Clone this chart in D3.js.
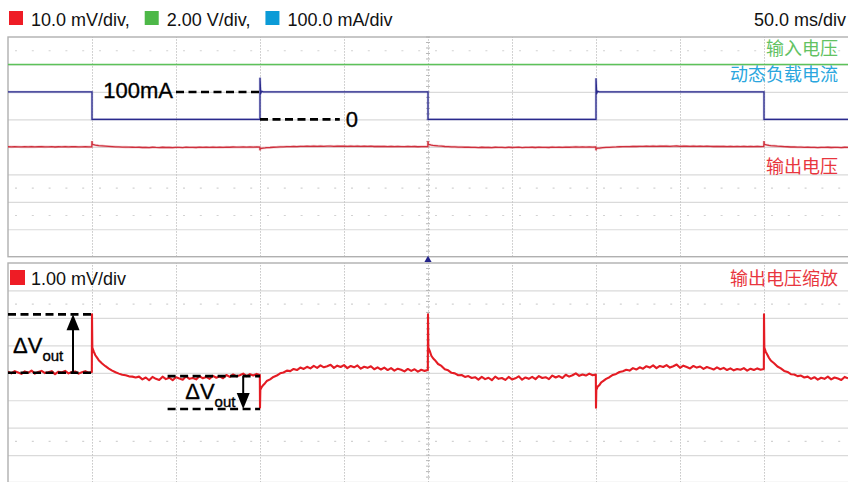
<!DOCTYPE html>
<html><head><meta charset="utf-8">
<script src="https://cdn.jsdelivr.net/npm/d3@7"></script>
<style>
html,body{margin:0;padding:0;background:#fff;}
svg{display:block;}
text{font-family:"Liberation Sans",Arial,Helvetica,sans-serif;}
.cjk{font-family:"Noto Sans CJK SC","Noto Sans",sans-serif;}
</style></head><body>
<svg id="c" width="848" height="482"></svg>
<script>
// ---------------- data ----------------
const timeDomain = [0, 500];                       // ms, 10 div x 50 ms/div
const gridTimes = [50, 100, 150, 200, 250, 300, 350, 400, 450];
const gridDivs = [-3, -2, -1, 0, 1, 2, 3];
const legendLabels = ["10.0 mV/div,", "2.00 V/div,", "100.0 mA/div"];
const legendColors = ["#ee1c25", "#4db848", "#0b9bd7"];
const timebaseLabel = "50.0 ms/div";
const zoomLabel = "1.00 mV/div";
const channelLabels = ["输入电压", "动态负载电流", "输出电压", "输出电压缩放"];

// input voltage (V)
const inputVoltage = [[0, 6.0], [500, 6.0]];
// dynamic load current (mA)
const loadCurrent = [
  [0, 100], [50, 100], [50, 0], [150, 0], [150, 152], [150.4, 95], [151, 102], [152, 100],
  [250, 100], [250, 0], [350, 0], [350, 150], [350.4, 95], [351, 102], [352, 100],
  [450, 100], [450, 0], [500, 0]
];
// output voltage deviation (mV)
const outputVoltage = [
  [0,0.04],[2,-0.02],[4,0.06],[6,0.01],[8,-0.04],[10,0.05],[12,0.00],[14,0.08],[16,-0.03],[18,0.03],
  [20,0.07],[22,-0.01],[24,0.02],[26,0.06],[28,-0.05],[30,0.04],[32,0.01],[34,0.07],[36,-0.02],[38,0.03],
  [40,0.05],[42,-0.03],[44,0.02],[46,0.06],[48,0.00],[49.9,0.03],
  [50,2.13],[50.2,0.92],[51,0.78],[52,0.64],[53,0.55],[54,0.46],[56,0.34],[58,0.24],[60,0.15],[62,0.08],
  [64,0.02],[66,-0.03],[68,-0.07],[70,-0.09],[72,-0.13],[74,-0.14],[76,-0.17],[78,-0.14],[80,-0.24],[82,-0.17],
  [84,-0.27],[86,-0.15],[88,-0.22],[90,-0.26],[92,-0.14],[94,-0.23],[96,-0.18],[98,-0.27],[100,-0.16],[102,-0.21],
  [104,-0.25],[106,-0.13],[108,-0.22],[110,-0.19],[112,-0.24],[114,-0.12],[116,-0.20],[118,-0.15],[120,-0.22],[122,-0.11],
  [124,-0.18],[126,-0.13],[128,-0.20],[130,-0.08],[132,-0.15],[134,-0.06],[136,-0.13],[138,-0.09],[140,-0.03],[142,-0.12],
  [144,-0.05],[146,-0.10],[148,-0.04],[149.9,-0.08],
  [150,-1.27],[150.2,-0.62],[151,-0.52],[152,-0.44],[153,-0.38],[154,-0.30],[156,-0.24],[158,-0.15],[160,-0.10],[162,-0.02],
  [164,0.01],[166,0.08],[168,0.06],[170,0.14],[172,0.10],[174,0.19],[176,0.14],[178,0.22],[180,0.16],[182,0.25],
  [184,0.18],[186,0.27],[188,0.20],[190,0.24],[192,0.29],[194,0.18],[196,0.26],[198,0.21],[200,0.28],[202,0.17],
  [204,0.25],[206,0.20],[208,0.27],[210,0.15],[212,0.22],[214,0.18],[216,0.24],[218,0.13],[220,0.20],[222,0.12],
  [224,0.19],[226,0.10],[228,0.17],[230,0.08],[232,0.15],[234,0.11],[236,0.05],[238,0.14],[240,0.07],[242,0.13],
  [244,0.04],[246,0.11],[248,0.07],[249.9,0.10],
  [250,2.13],[250.2,0.92],[251,0.80],[252,0.62],[253,0.53],[254,0.47],[256,0.32],[258,0.25],[260,0.13],[262,0.09],
  [264,0.00],[266,-0.02],[268,-0.09],[270,-0.08],[272,-0.15],[274,-0.12],[276,-0.19],[278,-0.16],[280,-0.25],[282,-0.15],
  [284,-0.23],[286,-0.18],[288,-0.27],[290,-0.14],[292,-0.22],[294,-0.19],[296,-0.26],[298,-0.15],[300,-0.24],[302,-0.20],
  [304,-0.13],[306,-0.25],[308,-0.17],[310,-0.22],[312,-0.15],[314,-0.23],[316,-0.12],[318,-0.19],[320,-0.16],[322,-0.23],
  [324,-0.10],[326,-0.17],[328,-0.12],[330,-0.19],[332,-0.07],[334,-0.14],[336,-0.09],[338,-0.02],[340,-0.11],[342,-0.06],
  [344,-0.10],[346,-0.03],[348,-0.09],[349.9,-0.06],
  [350,-1.27],[350.2,-0.62],[351,-0.50],[352,-0.45],[353,-0.36],[354,-0.31],[356,-0.22],[358,-0.16],[360,-0.08],[362,-0.04],
  [364,0.03],[366,0.06],[368,0.11],[370,0.08],[372,0.17],[374,0.12],[376,0.20],[378,0.15],[380,0.24],[382,0.19],
  [384,0.27],[386,0.17],[388,0.25],[390,0.21],[392,0.28],[394,0.19],[396,0.24],[398,0.30],[400,0.18],[402,0.26],
  [404,0.21],[406,0.16],[408,0.25],[410,0.19],[412,0.23],[414,0.14],[416,0.21],[418,0.17],[420,0.12],[422,0.20],
  [424,0.13],[426,0.18],[428,0.10],[430,0.16],[432,0.09],[434,0.14],[436,0.11],[438,0.17],[440,0.08],[442,0.15],
  [444,0.10],[446,0.16],[448,0.11],[449.9,0.14],
  [450,2.13],[450.2,0.92],[451,0.77],[452,0.66],[453,0.54],[454,0.45],[456,0.35],[458,0.23],[460,0.16],[462,0.07],
  [464,0.03],[466,-0.05],[468,-0.06],[470,-0.12],[472,-0.10],[474,-0.17],[476,-0.14],[478,-0.22],[480,-0.16],[482,-0.25],
  [484,-0.18],[486,-0.22],[488,-0.14],[490,-0.24],[492,-0.17],[494,-0.21],[496,-0.26],[498,-0.15],[500,-0.20]
];
// annotation values (data units)
const currentMarks = [{label: "100mA", value: 100, from: 100, to: 150}, {label: "0", value: 0, from: 150, to: 197.5}];
const deltaMarks = [
  {top: 2.13, bottom: 0.0, from: 0, to: 50, arrowAt: 38.7, up: true, textAt: 3, textBase: 0.72},
  {top: -0.12, bottom: -1.32, from: 95, to: 150, arrowAt: 140, up: false, textAt: 105.5, textBase: -0.95}
];

// ---------------- layout ----------------
const L = 8, R = 849;
const topP = {y0: 37, y1: 256.7};
const botP = {y0: 263, y1: 482.6};
const svg = d3.select("#c");

const x = d3.scaleLinear().domain(timeDomain).range([L, L + 840]);
const yTopDiv = d3.scaleLinear().domain([-4, 4]).range([topP.y1, topP.y0]);
const yBotDiv = d3.scaleLinear().domain([-4, 4]).range([botP.y1, botP.y0]);
// channel scales
const yRedTop = d3.scaleLinear().domain([-40, 40]).range([topP.y1, topP.y0]);   // 10 mV/div
const yGreen = d3.scaleLinear().domain([-8, 8]).range([topP.y1, topP.y0]);      // 2 V/div
const yBlue = d3.scaleLinear().domain([-500, 300]).range([topP.y1, topP.y0]);   // 100 mA/div
const yRedZoom = d3.scaleLinear().domain([-4, 4]).range([botP.y1, botP.y0]);    // 1 mV/div

// clip paths
const defs = svg.append("defs");
defs.append("clipPath").attr("id", "clipTop").append("rect")
  .attr("x", L).attr("y", topP.y0).attr("width", R - L).attr("height", topP.y1 - topP.y0);
defs.append("clipPath").attr("id", "clipBot").append("rect")
  .attr("x", L).attr("y", botP.y0).attr("width", R - L).attr("height", botP.y1 - botP.y0);

function drawPanel(p, yDiv, dotRows) {
  const g = svg.append("g");
  g.append("g").attr("transform", `translate(${L},0)`)
    .call(d3.axisLeft(yDiv).tickValues(gridDivs).tickSize(-(R - L)).tickFormat(""))
    .call(s => s.select(".domain").remove())
    .call(s => s.selectAll("line").attr("stroke", "#dadada").attr("stroke-width", 1.2));
  g.append("g").attr("transform", `translate(0,${p.y1})`)
    .call(d3.axisBottom(x).tickValues(gridTimes).tickSize(-(p.y1 - p.y0)).tickFormat(""))
    .call(s => s.select(".domain").remove())
    .call(s => s.selectAll("line").attr("stroke", "#c4c4c4").attr("stroke-width", 1).attr("stroke-dasharray", "1.5,1.5"));
  dotRows.forEach(v => {
    g.append("line").attr("x1", L).attr("x2", R).attr("y1", yDiv(v)).attr("y2", yDiv(v))
      .attr("stroke", "#d2d2d2").attr("stroke-width", 1.2).attr("stroke-dasharray", "2,14.8")
      .attr("stroke-dashoffset", -7);
  });
  const minor = d3.range(-4, 4.01, 0.2);
  g.append("g").selectAll("line").data(minor).join("line")
    .attr("x1", x(250) - 2).attr("x2", x(250) + 2)
    .attr("y1", d => yDiv(d)).attr("y2", d => yDiv(d))
    .attr("stroke", "#b8b8b8").attr("stroke-width", 1);
  g.append("rect").attr("x", L).attr("y", p.y0).attr("width", R - L + 5).attr("height", p.y1 - p.y0)
    .attr("fill", "none").attr("stroke", "#b0b0b0").attr("stroke-width", 1.4);
}
drawPanel(topP, yTopDiv, [3.5, -1.5, -2.5]);
drawPanel(botP, yBotDiv, [2.5, -2.5]);

// trigger marker
svg.append("path")
  .attr("d", d3.symbol(d3.symbolTriangle, 22)())
  .attr("transform", `translate(${x(250)},${(topP.y1 + botP.y0) / 2})`)
  .attr("fill", "#22228a");

// ---------------- traces ----------------
const lineOf = (ys) => d3.line().x(d => x(d[0])).y(d => ys(d[1]));
const gTop = svg.append("g").attr("clip-path", "url(#clipTop)");
gTop.append("path").datum(inputVoltage).attr("d", lineOf(yGreen))
  .attr("fill", "none").attr("stroke", "#5cc25a").attr("stroke-width", 1.6);
gTop.append("path").datum(loadCurrent).attr("d", lineOf(yBlue))
  .attr("fill", "none").attr("stroke", "#9a9ad0").attr("stroke-width", 2.6).attr("opacity", 0.45);
gTop.append("path").datum(loadCurrent).attr("d", lineOf(yBlue))
  .attr("fill", "none").attr("stroke", "#2a2a8c").attr("stroke-width", 1.3);
gTop.append("path").datum(outputVoltage).attr("d", lineOf(yRedTop))
  .attr("fill", "none").attr("stroke", "#e89aa0").attr("stroke-width", 2.6).attr("opacity", 0.5);
gTop.append("path").datum(outputVoltage).attr("d", lineOf(yRedTop))
  .attr("fill", "none").attr("stroke", "#cf2f3c").attr("stroke-width", 1.3);

const gBot = svg.append("g").attr("clip-path", "url(#clipBot)");
gBot.append("path").datum(outputVoltage).attr("d", lineOf(yRedZoom))
  .attr("fill", "none").attr("stroke", "#e41c24").attr("stroke-width", 2.1).attr("stroke-linejoin", "round");

// ---------------- texts ----------------
let lx = 9;
legendLabels.forEach((lab, i) => {
  svg.append("rect").attr("x", lx).attr("y", 11).attr("width", 14).attr("height", 14).attr("fill", legendColors[i]);
  const t = svg.append("text").attr("x", lx + 22).attr("y", 26).attr("font-size", 18).attr("fill", "#111").text(lab);
  lx = lx + 22 + t.node().getComputedTextLength() + 15;
});
svg.append("text").attr("x", 846).attr("y", 26).attr("font-size", 18).attr("text-anchor", "end")
  .attr("fill", "#111").text(timebaseLabel);
svg.append("rect").attr("x", 10).attr("y", 270).attr("width", 15).attr("height", 15).attr("fill", legendColors[0]);
svg.append("text").attr("x", 31).attr("y", 285).attr("font-size", 18).attr("fill", "#111").text(zoomLabel);

const chColors = ["#62c262", "#2aa6de", "#e8363e", "#e8363e"];
const chY = [yTopDiv(3.35), yTopDiv(2.4), yTopDiv(-0.95), yBotDiv(3.2)];
channelLabels.forEach((lab, i) => {
  svg.append("text").attr("class", "cjk").attr("x", 838).attr("y", chY[i]).attr("text-anchor", "end")
    .attr("font-size", 18).attr("fill", chColors[i]).text(lab);
});

const ann = svg.append("g");
currentMarks.forEach((m, i) => {
  ann.append("line").attr("x1", x(m.from)).attr("x2", x(m.to)).attr("y1", yBlue(m.value)).attr("y2", yBlue(m.value))
    .attr("stroke", "#000").attr("stroke-width", 2.6).attr("stroke-dasharray", "8,4.5");
  if (i === 0) {
    ann.append("text").attr("x", x(m.from) - 3).attr("y", yBlue(m.value) + 6).attr("text-anchor", "end")
      .attr("font-size", 22).attr("fill", "#000").attr("stroke", "#000").attr("stroke-width", 0.35).text(m.label);
  } else {
    ann.append("text").attr("x", x(m.to) + 6).attr("y", yBlue(m.value) + 8)
      .attr("font-size", 22).attr("fill", "#000").attr("stroke", "#000").attr("stroke-width", 0.35).text(m.label);
  }
});

deltaMarks.forEach(m => {
  [m.top, m.bottom].forEach(v => {
    ann.append("line").attr("x1", x(m.from)).attr("x2", x(m.to)).attr("y1", yRedZoom(v)).attr("y2", yRedZoom(v))
      .attr("stroke", "#000").attr("stroke-width", 2.6).attr("stroke-dasharray", "8,4.5");
  });
  const ax = x(m.arrowAt);
  const yT = yRedZoom(m.top), yB = yRedZoom(m.bottom);
  const tipY = m.up ? yT : yB, baseY = m.up ? yB : yT;
  const dir = m.up ? 1 : -1;
  ann.append("line").attr("x1", ax).attr("x2", ax).attr("y1", baseY).attr("y2", tipY + dir * 12)
    .attr("stroke", "#000").attr("stroke-width", 2);
  ann.append("path")
    .attr("d", `M${ax},${tipY} L${ax - 6.5},${tipY + dir * 16} L${ax + 6.5},${tipY + dir * 16} Z`)
    .attr("fill", "#000");
  const t = ann.append("text").attr("x", x(m.textAt)).attr("y", yRedZoom(m.textBase)).attr("fill", "#000")
    .attr("stroke", "#000").attr("stroke-width", 0.35);
  t.append("tspan").attr("font-size", 22).text("ΔV");
  t.append("tspan").attr("font-size", 15).attr("dy", 8).text("out");
});
</script>
</body></html>
